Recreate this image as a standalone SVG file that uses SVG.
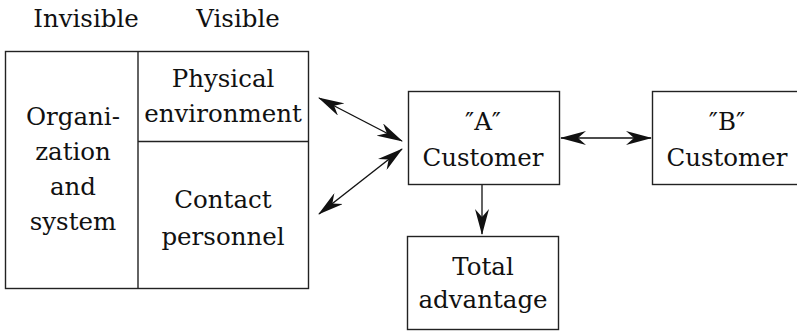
<svg xmlns="http://www.w3.org/2000/svg" width="797" height="332" viewBox="0 0 797 332">
<style>
text{font-family:"DejaVu Serif","Liberation Serif",serif;font-size:24.5px;fill:#111;text-anchor:middle}
.box{fill:#fff;stroke:#222;stroke-width:1.4}
.ln{stroke:#222;stroke-width:1.4;fill:none}
.conn{stroke:#111;stroke-width:1.4;fill:none;marker-end:url(#ah);marker-start:url(#ah)}
</style>
<defs>
<marker id="ah" viewBox="0 0 26 14" refX="25" refY="7" markerWidth="26" markerHeight="14" markerUnits="userSpaceOnUse" orient="auto-start-reverse">
<path d="M0,0 L26,7 L0,14 L8,7 Z" fill="#111"/>
</marker>
</defs>
<rect width="797" height="332" fill="#fff"/>
<g id="headers">
<text x="86" y="27">Invisible</text>
<text x="238" y="27">Visible</text>
</g>
<g id="company">
<rect class="box" x="5.5" y="51.5" width="303" height="237"/>
<line class="ln" x1="138" y1="51.5" x2="138" y2="288.5"/>
<line class="ln" x1="138" y1="141.5" x2="308.5" y2="141.5"/>
</g>
<g id="organization">
<text x="73" y="125">Organi-</text>
<text x="73" y="160">zation</text>
<text x="73" y="195">and</text>
<text x="73" y="230">system</text>
</g>
<g id="physical">
<text x="223" y="87">Physical</text>
<text x="223" y="122">environment</text>
</g>
<g id="contact">
<text x="223" y="208">Contact</text>
<text x="223" y="245">personnel</text>
</g>
<g id="customerA">
<rect class="box" x="408.5" y="91.5" width="151" height="93"/>
<text x="483" y="130">″A″</text>
<text x="483" y="166">Customer</text>
</g>
<g id="customerB">
<rect class="box" x="652.5" y="91.5" width="150" height="93"/>
<text x="727" y="130">″B″</text>
<text x="727" y="166">Customer</text>
</g>
<g id="total">
<rect class="box" x="407.5" y="236.5" width="151" height="93"/>
<text x="483" y="275">Total</text>
<text x="483" y="308">advantage</text>
</g>
<g id="connectors">
<line class="conn" x1="319" y1="98" x2="402" y2="141"/>
<line class="conn" x1="402" y1="149" x2="319" y2="214"/>
<line class="conn" x1="561" y1="138" x2="651" y2="138"/>
<line class="ln" x1="482" y1="185" x2="482" y2="234" marker-end="url(#ah)"/>
</g>
</svg>
